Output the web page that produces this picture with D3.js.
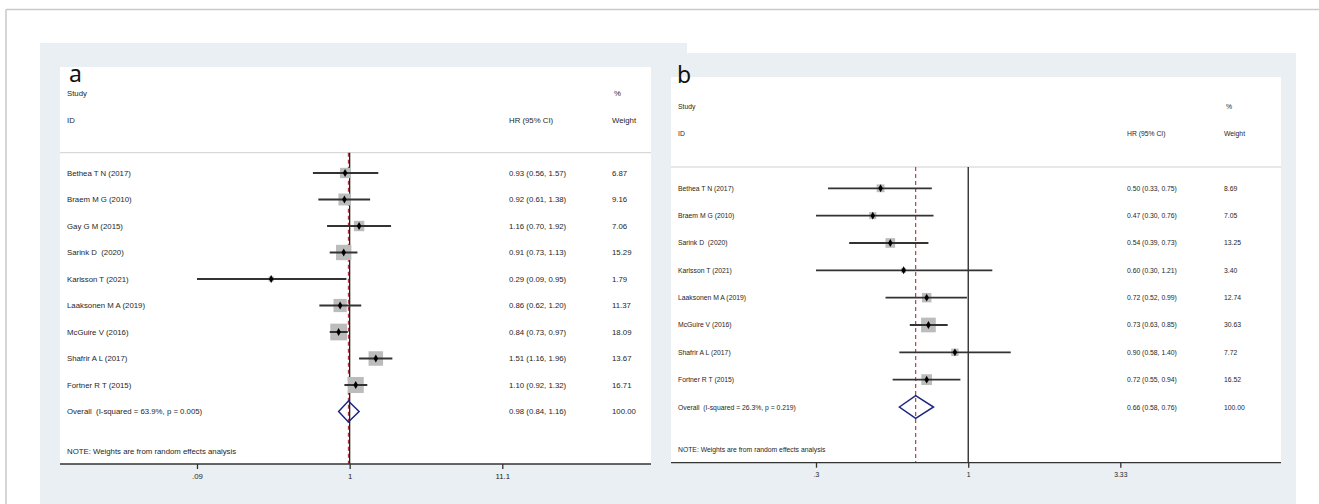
<!DOCTYPE html>
<html>
<head>
<meta charset="utf-8">
<script src="https://cdn.jsdelivr.net/npm/d3@7"></script>
<style>
html,body{margin:0;padding:0;background:#fff;}
svg{display:block;}
text{font-family:"Liberation Sans",Arial,sans-serif;fill:#262626;white-space:pre;}
</style>
</head>
<body>
<svg id="chart" width="1319" height="504"></svg>
<script>
// ---------- Data: panel a ----------
const studiesA = ["Bethea T N (2017)","Braem M G (2010)","Gay G M (2015)","Sarink D  (2020)","Karlsson T (2021)","Laaksonen M A (2019)","McGuire V (2016)","Shafrir A L (2017)","Fortner R T (2015)"];
const hrA    = [0.93,0.92,1.16,0.91,0.29,0.86,0.84,1.51,1.10];
const lowA   = [0.56,0.61,0.70,0.73,0.09,0.62,0.73,1.16,0.92];
const highA  = [1.57,1.38,1.92,1.13,0.95,1.20,0.97,1.96,1.32];
const weightA= [6.87,9.16,7.06,15.29,1.79,11.37,18.09,13.67,16.71];
const overallLabelA = "Overall  (I-squared = 63.9%, p = 0.005)";
const overallA = [0.98,0.84,1.16,100.00];
const tickValsA = [0.09,1,11.1];
const tickLabelsA = [".09","1","11.1"];

// ---------- Data: panel b ----------
const studiesB = ["Bethea T N (2017)","Braem M G (2010)","Sarink D  (2020)","Karlsson T (2021)","Laaksonen M A (2019)","McGuire V (2016)","Shafrir A L (2017)","Fortner R T (2015)"];
const hrB    = [0.50,0.47,0.54,0.60,0.72,0.73,0.90,0.72];
const lowB   = [0.33,0.30,0.39,0.30,0.52,0.63,0.58,0.55];
const highB  = [0.75,0.76,0.73,1.21,0.99,0.85,1.40,0.94];
const weightB= [8.69,7.05,13.25,3.40,12.74,30.63,7.72,16.52];
const overallLabelB = "Overall  (I-squared = 26.3%, p = 0.219)";
const overallB = [0.66,0.58,0.76,100.00];
const tickValsB = [0.3,1,3.33];
const tickLabelsB = [".3","1","3.33"];

const noteText = "NOTE: Weights are from random effects analysis";

const svg = d3.select("#chart");
const bg = "#e9eff2";

// outer frame lines
svg.append("line").attr("x1",6).attr("x2",1319).attr("y1",9.5).attr("y2",9.5).attr("stroke","#c9c9c9").attr("stroke-width",1.5);
svg.append("line").attr("x1",6).attr("x2",6).attr("y1",9.5).attr("y2",504).attr("stroke","#c9c9c9").attr("stroke-width",1.5);

// background panels
svg.append("rect").attr("x",40).attr("y",43).attr("width",647).attr("height",461).attr("fill",bg);
svg.append("rect").attr("x",660).attr("y",53).attr("width",636).attr("height",451).attr("fill",bg);

const fmt = d3.format(".2f");

function panel(cfg){
  const g = svg.append("g");
  // white plot area
  g.append("rect").attr("x",cfg.left).attr("y",cfg.top).attr("width",cfg.right-cfg.left).attr("height",cfg.axisY-cfg.top).attr("fill","#fff");
  // panel letter
  g.append("text").attr("x",cfg.letterX).attr("y",cfg.letterY).text(cfg.letter)
    .style("font-family","'Noto Sans','Open Sans',sans-serif").style("font-size","23px").style("fill","#111");

  const x = d3.scaleLog().domain([cfg.ticks[0],cfg.ticks[2]]).range(cfg.xr);
  const n = cfg.studies.length;
  const y = d3.scaleLinear().domain([0,n]).range([cfg.row0,cfg.rowN]);
  const fs = cfg.fs+"px";

  // headers
  const hdr = (tx,xx,yy)=>g.append("text").attr("x",xx).attr("y",yy).attr("dominant-baseline","central").style("font-size",fs).text(tx);
  hdr("Study",cfg.labelX,y(-3));
  hdr("%",cfg.wX+2,y(-3));
  hdr("ID",cfg.labelX,y(-2));
  hdr("HR (95% CI)",cfg.hrX,y(-2));
  hdr("Weight",cfg.wX,y(-2));

  // separator
  g.append("line").attr("x1",cfg.left).attr("x2",cfg.right).attr("y1",cfg.sepY).attr("y2",cfg.sepY).attr("stroke","#cfcfcf").attr("stroke-width",1);

  // null line at 1
  g.append("line").attr("x1",x(1)).attr("x2",x(1)).attr("y1",cfg.sepY).attr("y2",cfg.axisY).attr("stroke","#111").attr("stroke-width",1.2);
  // overall dashed line
  g.append("line").attr("x1",x(cfg.overall[0])).attr("x2",x(cfg.overall[0])).attr("y1",cfg.sepY).attr("y2",cfg.axisY)
    .attr("stroke","#a8323a").attr("stroke-width",1.1).attr("stroke-dasharray","4,3");

  const rows = cfg.studies.map((s,i)=>({s,hr:cfg.hr[i],lo:cfg.low[i],hi:cfg.high[i],w:cfg.weight[i],i}));
  const maxW = d3.max(cfg.weight);
  const side = d => cfg.maxBox*Math.sqrt(d.w/maxW);

  // boxes
  g.selectAll(".box").data(rows).join("rect")
    .attr("x",d=>x(d.hr)-side(d)/2).attr("y",d=>y(d.i)-side(d)/2)
    .attr("width",side).attr("height",side).attr("fill","#bcbcbc");
  // CI lines
  g.selectAll(".ci").data(rows).join("line")
    .attr("x1",d=>x(d.lo)).attr("x2",d=>x(d.hi)).attr("y1",d=>y(d.i)).attr("y2",d=>y(d.i))
    .attr("stroke","#333").attr("stroke-width",cfg.ciW);
  // point estimates
  g.selectAll(".pt").data(rows).join("path")
    .attr("transform",d=>`translate(${x(d.hr)},${y(d.i)})`)
    .attr("d",d3.symbol().type(d3.symbolDiamond).size(18)).attr("fill","#000");

  // labels
  g.selectAll(".lab").data(rows).join("text").attr("x",cfg.labelX).attr("y",d=>y(d.i)).attr("dominant-baseline","central").style("font-size",fs).text(d=>d.s);
  g.selectAll(".hrt").data(rows).join("text").attr("x",cfg.hrX).attr("y",d=>y(d.i)).attr("dominant-baseline","central").style("font-size",fs)
    .text(d=>`${fmt(d.hr)} (${fmt(d.lo)}, ${fmt(d.hi)})`);
  g.selectAll(".wt").data(rows).join("text").attr("x",cfg.wX).attr("y",d=>y(d.i)).attr("dominant-baseline","central").style("font-size",fs)
    .text(d=>fmt(d.w));

  // overall
  const o = cfg.overall, yo = y(n);
  g.append("path").attr("d",`M${x(o[1])},${yo}L${x(o[0])},${yo-cfg.dh}L${x(o[2])},${yo}L${x(o[0])},${yo+cfg.dh}Z`)
    .attr("fill","none").attr("stroke","#1c2580").attr("stroke-width",1.5);
  g.append("text").attr("x",cfg.labelX).attr("y",yo).attr("dominant-baseline","central").style("font-size",fs).text(cfg.overallLabel);
  g.append("text").attr("x",cfg.hrX).attr("y",yo).attr("dominant-baseline","central").style("font-size",fs).text(`${fmt(o[0])} (${fmt(o[1])}, ${fmt(o[2])})`);
  g.append("text").attr("x",cfg.wX).attr("y",yo).attr("dominant-baseline","central").style("font-size",fs).text(fmt(o[3]));

  // note
  g.append("text").attr("x",cfg.labelX).attr("y",cfg.noteY).attr("dominant-baseline","central").style("font-size",fs).text(noteText);

  // axis
  g.append("line").attr("x1",cfg.left).attr("x2",cfg.right).attr("y1",cfg.axisY).attr("y2",cfg.axisY).attr("stroke","#333").attr("stroke-width",1.3);
  const ax = d3.axisBottom(x).tickValues(cfg.ticks).tickSize(5).tickPadding(4).tickFormat((d,i)=>cfg.tickLabels[i]);
  const ag = g.append("g").attr("transform",`translate(0,${cfg.axisY})`).call(ax);
  ag.select(".domain").remove();
  ag.selectAll(".tick line").attr("stroke","#333").attr("stroke-width",1.3);
  ag.selectAll(".tick text").style("font-family","'Liberation Sans',Arial,sans-serif").style("font-size",fs).attr("fill","#262626");
}

panel({letter:"a",letterX:69,letterY:82,left:60,right:651,top:67,axisY:464,sepY:152.7,
  labelX:67,hrX:509,wX:612,fs:7.8,xr:[197,502.3],row0:173,rowN:411.5,noteY:451,
  studies:studiesA,hr:hrA,low:lowA,high:highA,weight:weightA,overall:overallA,overallLabel:overallLabelA,
  ticks:tickValsA,tickLabels:tickLabelsA,maxBox:16.7,ciW:2,dh:10.5});

panel({letter:"b",letterX:677,letterY:83,left:671,right:1281,top:77,axisY:462.7,sepY:167,
  labelX:678,hrX:1127,wX:1224,fs:6.8,xr:[816,1120.3],row0:188.3,rowN:407,noteY:449.3,
  studies:studiesB,hr:hrB,low:lowB,high:highB,weight:weightB,overall:overallB,overallLabel:overallLabelB,
  ticks:tickValsB,tickLabels:tickLabelsB,maxBox:14.7,ciW:1.8,dh:11.3});
</script>
</body>
</html>
